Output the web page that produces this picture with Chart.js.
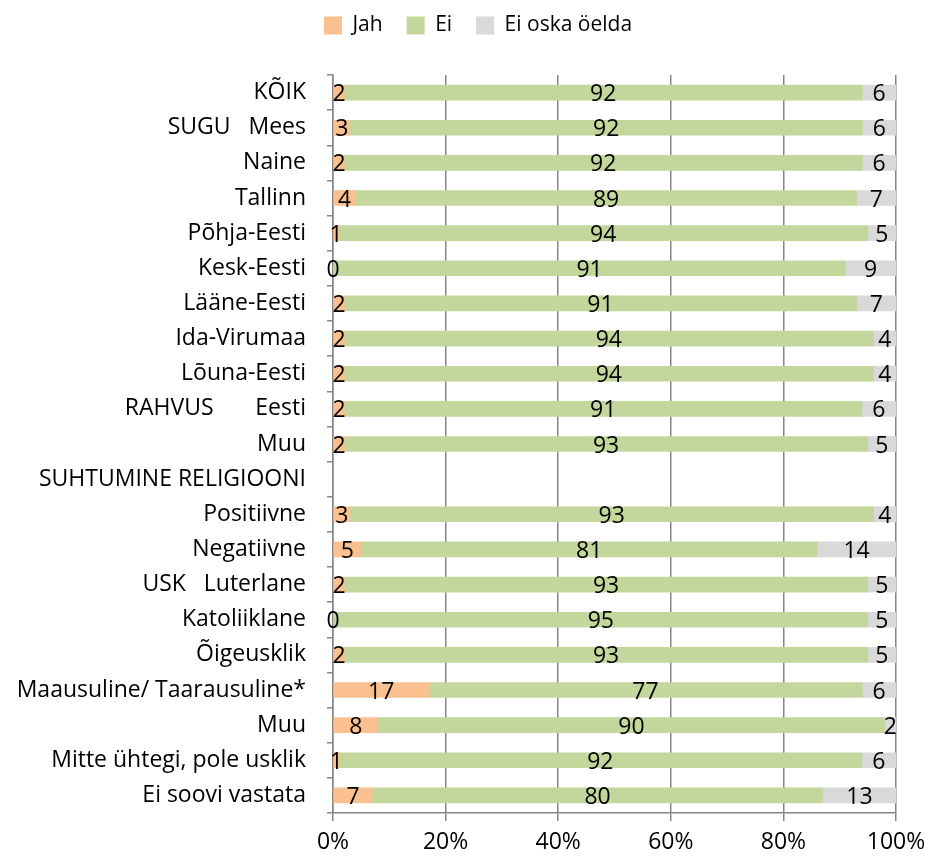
<!DOCTYPE html>
<html>
<head>
<meta charset="utf-8">
<script src="https://cdn.jsdelivr.net/npm/chart.js@4"></script>
<style>
  html, body { margin: 0; padding: 0; background: #fff; }
  #wrap { width: 930px; height: 861px; }
</style>
</head>
<body>
<div id="wrap"><canvas id="chart" width="930" height="861"></canvas></div>
<script>
const categories = [
  'KÕIK', 'SUGU   Mees', 'Naine', 'Tallinn', 'Põhja-Eesti', 'Kesk-Eesti',
  'Lääne-Eesti', 'Ida-Virumaa', 'Lõuna-Eesti', 'RAHVUS       Eesti', 'Muu',
  'SUHTUMINE RELIGIOONI', 'Positiivne', 'Negatiivne', 'USK   Luterlane',
  'Katoliiklane', 'Õigeusklik', 'Maausuline/ Taarausuline*', 'Muu',
  'Mitte ühtegi, pole usklik', 'Ei soovi vastata'
];
const jah  = [2, 3, 2, 4, 1, 0, 2, 2, 2, 2, 2, null, 3, 5, 2, 0, 2, 17, 8, 1, 7];
const ei   = [92, 92, 92, 89, 94, 91, 91, 94, 94, 91, 93, null, 93, 81, 93, 95, 93, 77, 90, 92, 80];
const eos  = [6, 6, 6, 7, 5, 9, 7, 4, 4, 6, 5, null, 4, 14, 5, 5, 5, 6, 2, 6, 13];
const xTicks = [0, 20, 40, 60, 80, 100];

const FONT = '"Open Sans", sans-serif';
const SIZE = 23;

// 100% stacked: share of each answer in the row total
const share = (arr) => arr.map((v, i) => {
  if (v === null) return null;
  const sum = jah[i] + ei[i] + eos[i];
  return v / sum * 100;
});

// value labels in the middle of every segment (zeros too, like Excel)
const valueLabels = {
  id: 'valueLabels',
  afterDatasetsDraw(chart) {
    const ctx = chart.ctx;
    ctx.save();
    ctx.fillStyle = '#000';
    ctx.font = SIZE + 'px ' + FONT;
    ctx.textAlign = 'center';
    ctx.textBaseline = 'middle';
    chart.data.datasets.forEach((ds, di) => {
      const meta = chart.getDatasetMeta(di);
      meta.data.forEach((bar, i) => {
        const raw = ds.raw[i];
        if (raw === null) return;
        const cx = (bar.x + bar.base) / 2;
        ctx.fillText(String(raw), cx, bar.y + 2);
      });
    });
    ctx.restore();
  }
};

// legend block: fixed height so the plot starts lower, and nudged right
const legendBox = {
  id: 'legendBox',
  beforeInit(chart) {
    const fit = chart.legend.fit;
    chart.legend.fit = function () {
      fit.call(this);
      this.height = 84;
    };
  },
  afterLayout(chart) {
    chart.legend.left += 30;
    chart.legend.right += 30;
  }
};

new Chart(document.getElementById('chart'), {
  type: 'bar',
  data: {
    labels: categories,
    datasets: [
      { label: 'Jah', data: share(jah), raw: jah, backgroundColor: '#FAC090' },
      { label: 'Ei', data: share(ei), raw: ei, backgroundColor: '#C3D69B' },
      { label: 'Ei oska öelda', data: share(eos), raw: eos, backgroundColor: '#D9D9D9' }
    ]
  },
  options: {
    indexAxis: 'y',
    responsive: false,
    animation: false,
    layout: { padding: { top: -9, right: 34, bottom: 0, left: 0 } },
    datasets: { bar: { barThickness: 15, borderWidth: 0 } },
    plugins: {
      legend: {
        position: 'top',
        labels: {
          font: { family: FONT, size: 21 },
          color: '#000',
          boxWidth: 18,
          boxHeight: 18,
          padding: 24
        }
      },
      tooltip: { enabled: false }
    },
    scales: {
      x: {
        stacked: true,
        min: 0,
        max: 100,
        afterBuildTicks: (s) => { s.ticks = xTicks.map(v => ({ value: v })); },
        afterFit: (s) => { s.height = 48; s.paddingRight = 0; s.paddingLeft = 0; },
        grid: { color: '#868686', lineWidth: 1.5, tickLength: 8 },
        border: { color: '#868686', width: 1.5 },
        ticks: {
          callback: (v) => v + '%',
          color: '#000',
          font: { family: FONT, size: SIZE },
          padding: 8,
          maxRotation: 0
        }
      },
      y: {
        stacked: true,
        afterFit: (s) => { s.width = 333; },
        grid: { offset: true, drawOnChartArea: false, color: '#868686', tickLength: 6, lineWidth: 1.5 },
        border: { color: '#868686', width: 1.5 },
        ticks: {
          color: '#000',
          font: { family: FONT, size: SIZE },
          padding: 21,
          autoSkip: false
        }
      }
    }
  },
  plugins: [valueLabels, legendBox]
});
</script>
</body>
</html>
